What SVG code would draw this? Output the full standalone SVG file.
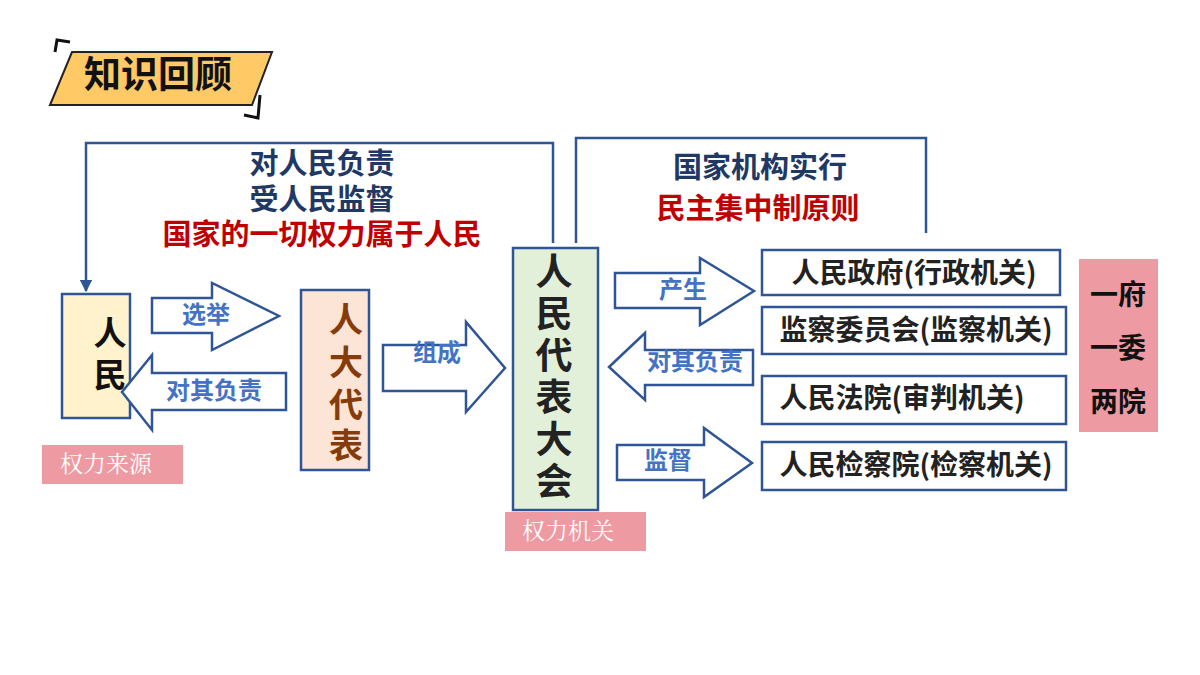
<svg xmlns="http://www.w3.org/2000/svg" width="1200" height="675" viewBox="0 0 1200 675">
<style>
text{font-family:"Noto Sans CJK SC","Noto Sans",sans-serif;font-weight:bold;text-anchor:middle}
.box{stroke:#2F5597;stroke-width:2.5}
.arr{fill:#fff;stroke:#2F5597;stroke-width:2.5;stroke-linejoin:miter}
.lbl{fill:#4472C4;font-size:24px}
.org{fill:#222;font-size:28px}
.tag{fill:#EE9AA2}
.tagt{fill:#fff;font-size:23px;font-weight:normal;font-family:"Noto Serif CJK SC","Noto Sans CJK SC",serif}
.line{fill:none;stroke:#2F5597;stroke-width:2.5}
.cap{font-size:29px}
</style>
<defs><marker id="ah" viewBox="0 0 10 10" refX="9" refY="5" markerWidth="5" markerHeight="5" orient="auto"><path d="M0,0L10,5L0,10z" fill="#2F5597"/></marker></defs>
<g id="title">
<polygon points="72,52 272,52 252,105 50,105" fill="#FFC966" stroke="#222" stroke-width="2"/>
<path d="M55,52L57,40L70,42" fill="none" stroke="#111" stroke-width="3"/>
<path d="M260,95L258,118L244,115" fill="none" stroke="#111" stroke-width="3"/>
<text x="158" y="88" font-size="37" fill="#111">知识回顾</text>
</g>
<g id="connectors">
<path class="line" d="M553,243V143H86V291" marker-end="url(#ah)"/>
<path class="line" d="M576,243V138H926V233"/>
</g>
<g id="captions">
<text class="cap" x="322" y="174" fill="#1F3864">对人民负责</text>
<text class="cap" x="322" y="210" fill="#1F3864">受人民监督</text>
<text class="cap" x="322" y="245" fill="#C00000">国家的一切权力属于人民</text>
<text class="cap" x="760" y="178" fill="#1F3864">国家机构实行</text>
<text class="cap" x="758" y="219" fill="#C00000">民主集中制原则</text>
</g>
<g id="renmin">
<rect class="box" x="62" y="294" width="68" height="124" fill="#FFF2CC"/>
<text x="110" y="345" font-size="33" fill="#111">人</text>
<text x="110" y="387" font-size="33" fill="#111">民</text>
</g>
<g id="arrow-xuanju"><polygon class="arr" points="152,298 212,298 212,283 279,316 212,350 212,333 152,333"/><text class="lbl" x="206" y="323">选举</text></g>
<g id="arrow-fuze1"><polygon class="arr" points="122,392 152,355 152,373 286,373 286,410 152,410 152,430"/><text class="lbl" x="214" y="399">对其负责</text></g>
<g id="rendadaibiao">
<rect class="box" x="301" y="290" width="68" height="180" fill="#FCE4D6"/>
<g font-size="34" fill="#843C0C"><text x="346" y="332">人</text><text x="346" y="375">大</text><text x="346" y="417">代</text><text x="346" y="458">表</text></g>
</g>
<g id="arrow-zucheng"><polygon class="arr" points="383,345 466,345 466,322 505,368 466,412 466,391 383,391"/><text class="lbl" x="437" y="361">组成</text></g>
<g id="rendahui">
<rect class="box" x="513" y="248" width="85" height="262" fill="#E2F0D9"/>
<g font-size="37" fill="#222"><text x="554" y="285">人</text><text x="554" y="327">民</text><text x="554" y="369">代</text><text x="554" y="411">表</text><text x="554" y="453">大</text><text x="554" y="495">会</text></g>
</g>
<g id="tag1"><rect class="tag" x="42" y="445" width="141" height="39"/><text class="tagt" x="106" y="472">权力来源</text></g>
<g id="tag2"><rect class="tag" x="505" y="512" width="141" height="39"/><text class="tagt" x="568" y="539">权力机关</text></g>
<g id="arrow-chansheng"><polygon class="arr" points="615,273 700,273 700,258 754,291 700,325 700,308 615,308"/><text class="lbl" x="683" y="298">产生</text></g>
<g id="arrow-fuze2"><polygon class="arr" points="609,367 645,333 645,350 753,350 753,385 645,385 645,400"/><text class="lbl" x="695" y="370">对其负责</text></g>
<g id="arrow-jiandu"><polygon class="arr" points="617,445 704,445 704,428 752,463 704,497 704,480 617,480"/><text class="lbl" x="668" y="469">监督</text></g>
<g id="zhengfu"><rect class="box" x="762" y="250" width="298" height="45" fill="#fff"/><text class="org" x="914" y="283">人民政府(行政机关)</text></g>
<g id="jianwei"><rect class="box" x="762" y="307" width="304" height="47" fill="#fff"/><text class="org" x="916" y="340">监察委员会(监察机关)</text></g>
<g id="fayuan"><rect class="box" x="762" y="376" width="304" height="48" fill="#fff"/><text class="org" x="902" y="408">人民法院(审判机关)</text></g>
<g id="jianchayuan"><rect class="box" x="762" y="442" width="304" height="48" fill="#fff"/><text class="org" x="916" y="475">人民检察院(检察机关)</text></g>
<g id="yifu"><rect class="tag" x="1079" y="259" width="79" height="173"/>
<g font-size="28" fill="#111"><text x="1118" y="305">一府</text><text x="1118" y="358">一委</text><text x="1118" y="412">两院</text></g></g>
</svg>
